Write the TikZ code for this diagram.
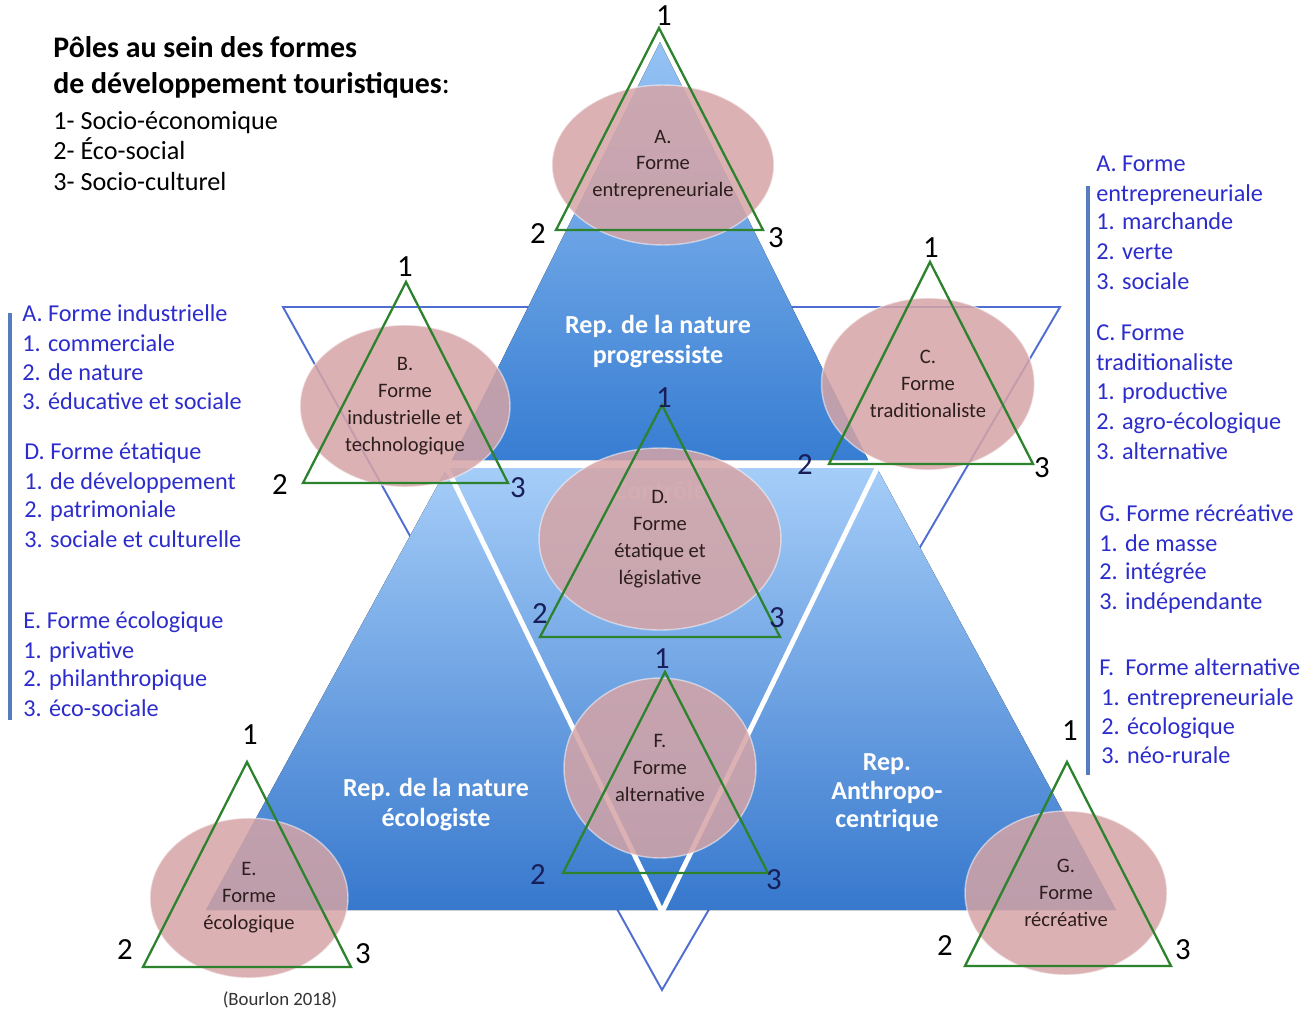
\documentclass[tikz,border=0pt]{standalone}
\usepackage{fontspec}
\setmainfont{Carlito}
\usetikzlibrary{shapes.geometric}
\definecolor{listblue}{RGB}{45,45,205}
\definecolor{barblue}{RGB}{85,125,190}
\definecolor{outlineblue}{RGB}{80,110,210}
\definecolor{gtri}{RGB}{45,130,45}
\definecolor{ellfill}{RGB}{214,164,166}
\definecolor{elltext}{RGB}{45,30,30}
\definecolor{topA}{RGB}{150,195,245}
\definecolor{botA}{RGB}{55,125,210}
\definecolor{topB}{RGB}{165,205,248}
\definecolor{botB}{RGB}{55,120,205}
\definecolor{numnavy}{RGB}{25,30,90}
\begin{document}
\begin{tikzpicture}[x=0.02cm,y=-0.02cm,
  ell/.style={ellipse, fill=ellfill, fill opacity=0.85, draw=white, draw opacity=0.5, line width=0.8pt, text=elltext, text opacity=1, align=center, font=\fontsize{11.7}{15.3}\selectfont, inner sep=0pt},
  gline/.style={draw=gtri, line width=1.3pt, line join=miter},
  num/.style={font=\fontsize{17.5}{20}\selectfont, inner sep=0pt, text=black},
  numd/.style={num, text=numnavy},
  lst/.style={anchor=west, text=listblue, font=\fontsize{13.8}{16}\selectfont, inner sep=0pt, text height=0.85em, text depth=0.2em},
  ttl/.style={anchor=west, font=\bfseries\fontsize{17}{20}\selectfont, inner sep=0pt, text height=0.85em, text depth=0.2em},
  tls/.style={anchor=west, font=\fontsize{14.9}{18}\selectfont, inner sep=0pt, text height=0.85em, text depth=0.2em},
  wl/.style={text=white, align=center, inner sep=0pt},
  bar/.style={draw=barblue, line width=1.8pt},
  sep/.style={draw=white, line width=2.8pt}
]
\useasboundingbox (0,0) rectangle (1302,1011);
\fill[white] (0,0) rectangle (1302,1011);

% outline inverted triangle
\draw[outlineblue, line width=1.1pt] (283,307) -- (1060,307) -- (662,990) -- cycle;

% blue shapes
\fill[top color=topA, bottom color=botA] (660,42) -- (868,460) -- (452,460) -- cycle;
\fill[top color=topB, bottom color=botB] (447,468) -- (877,468) -- (1116,910) -- (206,910) -- cycle;
\coordinate (mL) at (447,468);
\coordinate (mR) at (877,468);
\coordinate (mB) at (662,912);
\draw[sep] (mL) -- (mB) -- (mR);

% white labels
\node[wl, font=\bfseries\fontsize{14.8}{17}\selectfont] (rp) at (658,342) {Rep. de la nature\\progressiste};
\node[wl, font=\bfseries\fontsize{14.8}{17}\selectfont] (re) at (436,805) {Rep. de la nature\\écologiste};
\node[wl, font=\bfseries\fontsize{14.8}{16.2}\selectfont] (ra) at (887,793) {Rep.\\Anthropo-\\centrique};
\node[wl, text opacity=0.45, font=\bfseries\fontsize{14.8}{17}\selectfont] (ctl) at (660,490) {Contrôle};

% ellipses
\node[ell, minimum width=4.44cm, minimum height=3.2cm] (eA) at (663,165) {A.\\Forme\\entrepreneuriale};
\node[ell, minimum width=4.2cm, minimum height=3.24cm] (eB) at (405,406) {B.\\Forme\\industrielle et\\technologique};
\node[ell, minimum width=4.26cm, minimum height=3.44cm] (eC) at (928,384) {C.\\Forme\\traditionaliste};
\node[ell, minimum width=4.84cm, minimum height=3.64cm] (eD) at (660,539) {D.\\Forme\\étatique et\\législative};
\node[ell, minimum width=3.84cm, minimum height=3.6cm] (eF) at (660,768) {F.\\Forme\\alternative};
\node[ell, minimum width=3.96cm, minimum height=3.2cm] (eE) at (249,898) {E.\\Forme\\écologique};
\node[ell, minimum width=4.04cm, minimum height=3.28cm] (eG) at (1066,893) {G.\\Forme\\récréative};

% green triangles
\coordinate (A1) at (659,28);  \coordinate (A2) at (556,230); \coordinate (A3) at (763,230);
\coordinate (B1) at (406,282); \coordinate (B2) at (303,483); \coordinate (B3) at (508,483);
\coordinate (C1) at (930,262); \coordinate (C2) at (829,464); \coordinate (C3) at (1033,464);
\coordinate (D1) at (662,405); \coordinate (D2) at (540,637); \coordinate (D3) at (780,637);
\coordinate (F1) at (665,672); \coordinate (F2) at (563,873); \coordinate (F3) at (768,873);
\coordinate (E1) at (247,762); \coordinate (E2) at (143,967); \coordinate (E3) at (351,967);
\coordinate (G1) at (1067,762); \coordinate (G2) at (965,966); \coordinate (G3) at (1171,966);
\foreach \t in {A,B,C,D,F,E,G}{\draw[gline] (\t1) -- (\t2) -- (\t3) -- cycle;}

% numbers
\node[num] (nA1) at (664,16) {1}; \node[num] (nA2) at (538,234) {2}; \node[num] (nA3) at (776,238) {3};
\node[num] (nB1) at (405,267) {1}; \node[num] (nB2) at (280,485) {2}; \node[numd] (nB3) at (518,488) {3};
\node[num] (nC1) at (931,248) {1}; \node[numd] (nC2) at (805,465) {2}; \node[num] (nC3) at (1042,468) {3};
\node[numd] (nD1) at (664,398) {1}; \node[numd] (nD2) at (540,614) {2}; \node[numd] (nD3) at (777,618) {3};
\node[numd] (nF1) at (662,659) {1}; \node[numd] (nF2) at (538,875) {2}; \node[numd] (nF3) at (774,880) {3};
\node[num] (nE1) at (250,735) {1}; \node[num] (nE2) at (125,950) {2}; \node[num] (nE3) at (363,954) {3};
\node[num] (nG1) at (1070,731) {1}; \node[num] (nG2) at (945,946) {2}; \node[num] (nG3) at (1183,950) {3};

% title
\node[ttl] (t1) at (53,52) {Pôles au sein des formes};
\node[ttl] (t2) at (53,88) {de développement touristiques\mdseries:};
\node[tls] (t3) at (53,124) {1- Socio-économique};
\node[tls] (t4) at (53,154) {2- Éco-social};
\node[tls] (t5) at (53,185) {3- Socio-culturel};

% bars
\coordinate (lb1) at (10,313); \coordinate (lb2) at (10,720);
\coordinate (rb1) at (1088,186); \coordinate (rb2) at (1088,775);
\draw[bar] (lb1) -- (lb2);
\draw[bar] (rb1) -- (rb2);

% left list
\node[lst] (l1) at (22,316) {A. Forme industrielle};
\node[lst] (l2) at (22,346) {1. commerciale};
\node[lst] (l3) at (22,375) {2. de nature};
\node[lst] (l4) at (22,404) {3. éducative et sociale};
\node[lst] (l5) at (24,454) {D. Forme étatique};
\node[lst] (l6) at (24,484) {1. de développement};
\node[lst] (l7) at (24,512) {2. patrimoniale};
\node[lst] (l8) at (24,542) {3. sociale et culturelle};
\node[lst] (l9) at (23,623) {E. Forme écologique};
\node[lst] (l10) at (23,653) {1. privative};
\node[lst] (l11) at (23,681) {2. philanthropique};
\node[lst] (l12) at (23,711) {3. éco-sociale};

% right list
\node[lst] (r1) at (1096,166) {A. Forme};
\node[lst] (r2) at (1096,196) {entrepreneuriale};
\node[lst] (r3) at (1096,224) {1. marchande};
\node[lst] (r4) at (1096,254) {2. verte};
\node[lst] (r5) at (1096,284) {3. sociale};
\node[lst] (r6) at (1096,335) {C. Forme};
\node[lst] (r7) at (1096,365) {traditionaliste};
\node[lst] (r8) at (1096,394) {1. productive};
\node[lst] (r9) at (1096,424) {2. agro-écologique};
\node[lst] (r10) at (1096,454) {3. alternative};
\node[lst] (r11) at (1099,516) {G. Forme récréative};
\node[lst] (r12) at (1099,546) {1. de masse};
\node[lst] (r13) at (1099,574) {2. intégrée};
\node[lst] (r14) at (1099,604) {3. indépendante};
\node[lst] (r15) at (1099,670) {F.\ \ Forme alternative};
\node[lst] (r16) at (1101,700) {1. entrepreneuriale};
\node[lst] (r17) at (1101,729) {2. écologique};
\node[lst] (r18) at (1101,758) {3. néo-rurale};

% source
\node[font=\fontsize{10.7}{12}\selectfont, text=black!80, inner sep=0pt] (src) at (280,1000) {(Bourlon 2018)};
\end{tikzpicture}
\end{document}
